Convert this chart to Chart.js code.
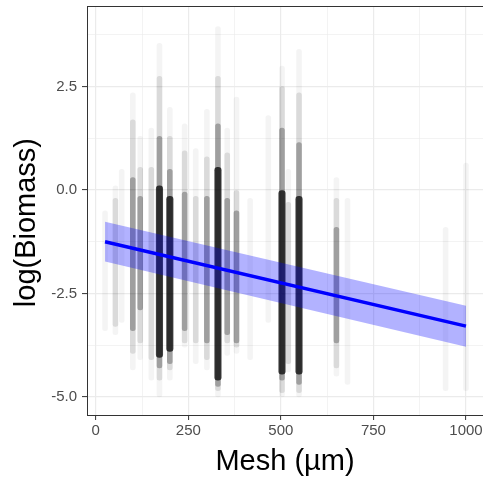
<!DOCTYPE html>
<html>
<head>
<meta charset="utf-8">
<script src="https://cdn.jsdelivr.net/npm/chart.js@4/dist/chart.umd.min.js"></script>
<style>
  html, body { margin: 0; padding: 0; background: #ffffff; }
  #wrap { width: 483px; height: 484px; }
</style>
</head>
<body>
<div id="wrap"><canvas id="c" width="483" height="484"></canvas></div>
<script>
// ---- data ----
// point-cloud density per mesh size: [mesh (µm), low log(Biomass), high log(Biomass)]
const faintRanges = [
  [25, -3.4, -0.5], [53, -3.5, 0.1], [70, -3.2, 0.5], [100, -4.35, 2.35],
  [120, -4.1, 1.3], [150, -4.6, 1.5], [172, -5.0, 3.55], [200, -4.6, 2.0],
  [240, -3.8, 1.6], [270, -4.2, 1.0], [300, -4.35, 1.95], [330, -5.0, 3.95],
  [355, -4.0, 1.5], [380, -3.95, 2.25], [417, -4.1, -0.2], [466, -3.2, 1.8],
  [503, -5.0, 3.0], [520, -4.4, 0.5], [549, -5.0, 3.4], [650, -4.5, 0.3],
  [680, -4.7, -0.2], [945, -4.85, -0.9], [1000, -4.85, 0.65]
];
const lightRanges = [
  [53, -3.3, -0.2], [100, -3.95, 1.7], [120, -3.7, 0.55], [150, -4.1, 0.55],
  [172, -4.6, 2.75], [200, -4.35, 1.3], [240, -3.7, 0.95], [270, -3.7, -0.15],
  [300, -4.1, 0.8], [330, -4.85, 2.75], [355, -3.7, 0.9], [380, -3.8, 0.0],
  [503, -4.9, 2.5], [520, -4.2, -0.3], [549, -4.9, 2.35], [650, -4.3, -0.2]
];
const mediumRanges = [
  [100, -3.4, 0.3], [120, -2.9, -0.15], [172, -4.3, 1.3], [200, -4.2, 0.5],
  [240, -3.4, -0.05], [300, -3.7, -0.15], [330, -4.75, 1.6], [355, -3.5, -0.2],
  [380, -3.7, -0.5], [503, -4.6, 1.5], [549, -4.7, 1.15], [650, -3.7, -0.9]
];
const darkRanges = [
  [172, -4.05, 0.1], [200, -3.9, -0.15], [330, -4.6, 0.55],
  [503, -4.45, 0.0], [549, -4.45, -0.15]
];

// linear fit and its ribbon
const fitMesh  = [25, 1000];
const fitLine  = [-1.25, -3.29];
const fitUpper = [-0.77, -2.80];
const fitLower = [-1.73, -3.79];

// axes
const xTickValues = [0, 250, 500, 750, 1000];
const xTickLabels = ['0', '250', '500', '750', '1000'];
const xMinorValues = [125, 375, 625, 875];
const yTickValues = [-5, -2.5, 0, 2.5];
const yTickLabels = ['-5.0', '-2.5', '0.0', '2.5'];
const yMinorValues = [-3.75, -1.25, 1.25, 3.75];

const xTitle = 'Mesh (\u00B5m)';
const yTitle = 'log(Biomass)';

// ---- chart ----
const FONT = '"Liberation Sans", Arial, Helvetica, sans-serif';

function rangeSet(ranges, color, thickness, order) {
  return {
    type: 'bar',
    data: ranges.map(r => ({ x: r[0], y: [r[1], r[2]] })),
    backgroundColor: color,
    borderWidth: 0,
    borderSkipped: false,
    borderRadius: thickness / 2,
    barThickness: thickness,
    grouped: false,
    order: order
  };
}
function linePts(ys) { return fitMesh.map((m, i) => ({ x: m, y: ys[i] })); }

const datasets = [
  { type: 'line', data: linePts(fitLine), borderColor: '#0000ff', borderWidth: 3.5,
    pointRadius: 0, fill: false, order: 0 },
  { type: 'line', data: linePts(fitUpper), borderColor: 'rgba(0,0,0,0)', borderWidth: 1,
    pointRadius: 0, fill: false, order: 1 },
  { type: 'line', data: linePts(fitLower), borderColor: 'rgba(0,0,0,0)', borderWidth: 1,
    pointRadius: 0, fill: '-1', backgroundColor: 'rgba(0,0,255,0.3)', order: 1 },
  rangeSet(darkRanges, 'rgba(0,0,0,0.72)', 6.5, 2),
  rangeSet(mediumRanges, 'rgba(0,0,0,0.27)', 5, 3),
  rangeSet(lightRanges, 'rgba(0,0,0,0.11)', 5, 4),
  rangeSet(faintRanges, 'rgba(0,0,0,0.045)', 5, 5)
];

const panelBorder = {
  id: 'panelBorder',
  afterDatasetsDraw(chart) {
    const { ctx, chartArea: a } = chart;
    ctx.save();
    ctx.strokeStyle = '#333333';
    ctx.lineWidth = 1;
    ctx.strokeRect(a.left + 0.5, a.top + 0.5, a.right - a.left, a.bottom - a.top);
    ctx.restore();
  }
};

function isIn(list, v) { return list.some(t => Math.abs(t - v) < 1e-9); }

new Chart(document.getElementById('c'), {
  type: 'bar',
  data: { datasets },
  plugins: [panelBorder],
  options: {
    responsive: false,
    animation: false,
    layout: { padding: { top: 6, right: 0, bottom: 0, left: 0 } },
    plugins: { legend: { display: false }, tooltip: { enabled: false } },
    scales: {
      x: {
        type: 'linear',
        position: 'bottom',
        min: -23.75,
        max: 1046,
        offset: false,
        afterBuildTicks: s => {
          s.ticks = xTickValues.concat(xMinorValues).sort((a, b) => a - b).map(v => ({ value: v }));
        },
        afterFit: s => { s.height = 69; s.paddingLeft = 0; s.paddingRight = 0; s.paddingTop = 0; s.paddingBottom = 0; },
        ticks: {
          autoSkip: false, maxRotation: 0, padding: 2,
          color: '#4d4d4d', font: { family: FONT, size: 15 },
          callback: v => { const i = xTickValues.indexOf(v); return i >= 0 ? xTickLabels[i] : ''; }
        },
        grid: {
          offset: false,
          color: '#ebebeb',
          lineWidth: c => (c.tick && isIn(xTickValues, c.tick.value)) ? 1.2 : 0.6,
          tickColor: c => (c.tick && isIn(xTickValues, c.tick.value)) ? '#333333' : 'rgba(0,0,0,0)',
          tickWidth: 1,
          tickLength: 5
        },
        border: { display: false },
        title: {
          display: true, text: xTitle, color: '#000000',
          font: { family: FONT, size: 29 }, padding: { top: 0, bottom: 5 }
        }
      },
      y: {
        type: 'linear',
        position: 'left',
        min: -5.44,
        max: 4.45,
        afterBuildTicks: s => {
          s.ticks = yTickValues.concat(yMinorValues).sort((a, b) => a - b).map(v => ({ value: v }));
        },
        afterFit: s => { s.width = 87; s.paddingLeft = 0; s.paddingRight = 0; s.paddingTop = 0; s.paddingBottom = 0; },
        ticks: {
          autoSkip: false, padding: 5,
          color: '#4d4d4d', font: { family: FONT, size: 15 },
          callback: v => { const i = yTickValues.indexOf(v); return i >= 0 ? yTickLabels[i] : ''; }
        },
        grid: {
          color: '#ebebeb',
          lineWidth: c => (c.tick && isIn(yTickValues, c.tick.value)) ? 1.2 : 0.6,
          tickColor: c => (c.tick && isIn(yTickValues, c.tick.value)) ? '#333333' : 'rgba(0,0,0,0)',
          tickWidth: 1,
          tickLength: 5
        },
        border: { display: false },
        title: {
          display: true, text: yTitle + '   ', color: '#000000',
          font: { family: FONT, size: 29 }, padding: { top: 10, bottom: 0 }
        }
      }
    }
  }
});
</script>
</body>
</html>
